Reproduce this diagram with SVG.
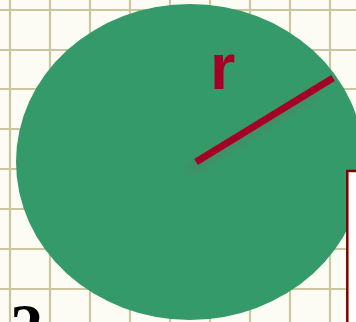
<svg xmlns="http://www.w3.org/2000/svg" width="356" height="322" viewBox="0 0 356 322">
  <style>
    .grid line { stroke: #c9c6a0; stroke-width: 2.2; }
    .red { fill: #a50026; }
  </style>
  <defs>
    <filter id="blur" x="-30%" y="-30%" width="160%" height="160%">
      <feGaussianBlur stdDeviation="4"/>
    </filter>
  </defs>
  <rect x="0" y="0" width="356" height="322" fill="#fcfcf4"/>
  <g class="grid" id="grid">
    <line x1="10" y1="0" x2="10" y2="322"/>
    <line x1="50" y1="0" x2="50" y2="322"/>
    <line x1="90" y1="0" x2="90" y2="322"/>
    <line x1="130" y1="0" x2="130" y2="322"/>
    <line x1="170" y1="0" x2="170" y2="322"/>
    <line x1="210" y1="0" x2="210" y2="322"/>
    <line x1="250" y1="0" x2="250" y2="322"/>
    <line x1="290" y1="0" x2="290" y2="322"/>
    <line x1="330" y1="0" x2="330" y2="322"/>
    <line x1="0" y1="10" x2="356" y2="10"/>
    <line x1="0" y1="50" x2="356" y2="50"/>
    <line x1="0" y1="89" x2="356" y2="89"/>
    <line x1="0" y1="129" x2="356" y2="129"/>
    <line x1="0" y1="169" x2="356" y2="169"/>
    <line x1="0" y1="209" x2="356" y2="209"/>
    <line x1="0" y1="249" x2="356" y2="249"/>
    <line x1="0" y1="289" x2="356" y2="289"/>
  </g>
  <g id="circle">
    <ellipse cx="190" cy="162" rx="174" ry="158" fill="#359a69"/>
  </g>
  <g id="radius">
    <line x1="188" y1="172" x2="318" y2="92" stroke="#5a7a66" stroke-width="7" opacity="0.55" filter="url(#blur)"/>
    <line x1="196" y1="162" x2="333" y2="78" stroke="#a50026" stroke-width="7"/>
    <text class="red" x="210" y="89" font-family="Liberation Sans, Arial, sans-serif" font-weight="bold" font-size="65">r</text>
  </g>
  <g id="box">
    <rect x="347.3" y="171" width="40" height="200" fill="#ffffff" stroke="#800000" stroke-width="2.5"/>
  </g>
  <g id="formula">
    <text x="10" y="349" font-family="Liberation Serif, Times New Roman, serif" font-weight="bold" font-size="66" fill="#000000">2</text>
  </g>
</svg>
